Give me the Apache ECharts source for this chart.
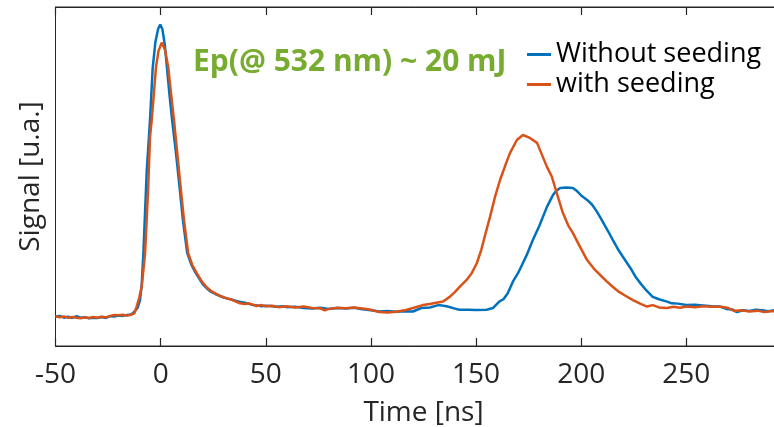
<!DOCTYPE html>
<html>
<head>
<meta charset="utf-8">
<script src="https://cdn.jsdelivr.net/npm/echarts@6/dist/echarts.min.js"></script>
<style>
  html, body { margin: 0; padding: 0; background: #fff; }
  #chart { width: 774px; height: 427px; }
</style>
</head>
<body>
<div id="chart"></div>
<script>
// series names
var seriesNames = ['Without seeding', 'with seeding'];
var xTicks = [-50, 0, 50, 100, 150, 200, 250];

// without seeding (blue), time in ns / signal in a.u.
var blueTime = [-50, -48, -46, -44, -42, -40, -38, -36, -34, -32, -30, -28, -26, -24, -22, -20, -18, -16, -14,
  -12.5, -11, -9.8, -9, -8.2, -7.4, -6.6, -5, -3.8, -2.5, -1.2, -0.2, 0.8, 2, 2.9, 4.2, 5.5, 7.3, 9, 10.6, 12.6,
  14.5, 16.5, 18, 20, 22, 24, 26, 28, 30, 32, 34, 36, 38, 40, 42, 44, 46, 48, 50, 52, 55, 58, 60, 64, 68, 72,
  76, 80, 84, 88, 92, 96, 100, 104, 108, 112, 116, 120, 124, 128, 132, 136, 140, 142, 146, 150, 155, 158, 161,
  163, 165, 167.5, 170, 172, 174, 177, 180, 183.7, 186.6, 188, 190, 193, 196, 198, 200, 202.8, 205, 207, 209,
  211, 213, 215, 218, 221.8, 224, 226, 228, 231, 234, 237, 240.8, 243, 246, 250, 254, 258, 262, 266, 269, 272,
  274, 277, 280, 283, 286, 289, 292, 296, 300];
var blueSignal = [0.000, 0.003, -0.003, 0.000, -0.004, 0.002, -0.003, -0.002, -0.005, -0.003, -0.004, -0.001,
  -0.004, 0.002, 0.001, 0.004, 0.003, 0.006, 0.008,
  0.017, 0.030, 0.057, 0.11, 0.218, 0.36, 0.50, 0.68, 0.85, 0.94, 0.985, 1.0, 0.985, 0.93, 0.86, 0.76, 0.67,
  0.56, 0.444, 0.331, 0.22,
  0.18, 0.152, 0.135, 0.112, 0.097, 0.085, 0.078, 0.072, 0.066, 0.062, 0.058, 0.054, 0.051, 0.048, 0.044, 0.040,
  0.039, 0.036, 0.038, 0.037, 0.034, 0.036, 0.033, 0.034, 0.030, 0.028,
  0.031, 0.027, 0.030, 0.028, 0.031, 0.026, 0.022, 0.018, 0.020, 0.017, 0.019, 0.018, 0.030, 0.032, 0.040,
  0.036, 0.028, 0.024, 0.024, 0.023, 0.024, 0.030, 0.052,
  0.060, 0.080, 0.120, 0.150, 0.180, 0.210, 0.263, 0.310, 0.376, 0.417, 0.430, 0.441, 0.442, 0.441, 0.430,
  0.415, 0.400, 0.385, 0.365, 0.341,
  0.315, 0.290, 0.263, 0.225, 0.184, 0.160, 0.135, 0.116, 0.090, 0.068, 0.060, 0.052, 0.046, 0.045, 0.040,
  0.041, 0.039, 0.036, 0.035, 0.027, 0.025,
  0.016, 0.022, 0.020, 0.024, 0.022, 0.019, 0.023, 0.022, 0.022];

// with seeding (orange)
var orangeTime = [-50, -48, -46, -44, -42, -40, -38, -36, -34, -32, -30, -28, -26, -24, -22, -20, -18, -16, -14,
  -12.5, -11.4, -10.2, -9, -7.4, -5.9, -5.05, -4.25, -2.2, -1, 0.5, 2, 3.6, 5, 6.35, 7.9, 9.5, 11.1, 13.1,
  15, 17.1, 19, 20.1, 22, 24, 25.8, 28, 31.4, 34, 37.7, 40, 42, 45.7, 48, 50, 53, 56, 60, 64, 68, 72,
  76, 78, 80, 84, 88, 92, 96, 100, 104, 108, 112, 116, 120, 124.7, 128, 131, 134.3, 137.6, 140, 142.3, 145.5,
  148, 150.4, 152.5, 154.5, 156.6, 159, 161.4, 164, 166.1, 169.4, 172.3, 175.6, 179, 181, 183.7, 186, 188.3,
  191.3, 194, 196, 199, 202.8, 206, 209, 212, 215.1, 218, 221, 224.6, 228, 231.3, 234, 237, 240.8, 244, 247,
  250.3, 254, 258, 262, 266.5, 270, 272.6, 276, 280, 284, 287, 290, 294, 300];
var orangeSignal = [0.002, -0.002, 0.001, -0.003, -0.001, -0.003, -0.005, -0.002, -0.004, -0.001, -0.003, 0.000,
  -0.002, 0.003, 0.006, 0.005, 0.007, 0.004, 0.007,
  0.012, 0.035, 0.065, 0.103, 0.218, 0.444, 0.615, 0.673, 0.855, 0.91, 0.938, 0.915, 0.855, 0.76, 0.673, 0.56,
  0.444, 0.331, 0.218,
  0.178, 0.150, 0.128, 0.116, 0.100, 0.088, 0.081, 0.072, 0.063, 0.058, 0.046, 0.044, 0.046, 0.037, 0.040,
  0.036, 0.038, 0.033, 0.036, 0.032, 0.035, 0.030,
  0.029, 0.022, 0.027, 0.031, 0.029, 0.032, 0.028, 0.024, 0.016, 0.015, 0.017, 0.022, 0.030, 0.040, 0.044,
  0.048, 0.052, 0.069, 0.085, 0.103, 0.126,
  0.150, 0.184, 0.230, 0.285, 0.341, 0.410, 0.468, 0.520, 0.560, 0.605, 0.622, 0.612, 0.595, 0.560, 0.513,
  0.480, 0.425,
  0.355, 0.310, 0.287, 0.245, 0.194, 0.165, 0.143, 0.122, 0.102, 0.085, 0.072, 0.057, 0.045, 0.035, 0.040,
  0.032, 0.030, 0.034, 0.031,
  0.035, 0.033, 0.036, 0.034, 0.034, 0.030, 0.020, 0.022, 0.018, 0.021, 0.016, 0.019, 0.018, 0.020];

function pairs(xs, ys) {
  var out = [];
  for (var i = 0; i < xs.length; i++) out.push([xs[i], ys[i]]);
  return out;
}

var ink = '#262626';
var font = 'Open Sans';

var myChart = echarts.init(document.getElementById('chart'));
var option = {
  animation: false,
  backgroundColor: '#fff',
  grid: {
    left: 55.5, top: 7, width: 736, height: 339,
    outerBoundsMode: 'none', containLabel: false,
    show: true, borderColor: ink, borderWidth: 1, backgroundColor: 'transparent'
  },
  legend: {
    orient: 'vertical',
    left: 527,
    top: 41,
    padding: 0,
    icon: 'rect',
    itemWidth: 24,
    itemHeight: 3,
    itemGap: 3,
    textStyle: { fontFamily: font, fontSize: 27, lineHeight: 27, color: '#000' },
    data: seriesNames
  },
  graphic: [{
    type: 'text',
    left: 193,
    top: 47,
    style: {
      text: 'Ep(@ 532 nm) ~ 20 mJ',
      fill: '#77AC30',
      font: 'bold 30px "Open Sans"'
    }
  }],
  xAxis: [{
    type: 'value',
    min: -50,
    max: 300,
    interval: 50,
    name: 'Time [ns]',
    nameLocation: 'middle',
    nameGap: 53,
    nameTextStyle: { fontFamily: font, fontSize: 28, color: ink },
    axisLine: { show: true, onZero: false, lineStyle: { color: ink, width: 1 } },
    axisTick: { show: true, inside: true, length: 8, lineStyle: { color: ink, width: 1.2 } },
    axisLabel: {
      fontFamily: font, fontSize: 28, color: ink, margin: 15,
      showMaxLabel: false,
      formatter: function (v) { return xTicks.indexOf(v) >= 0 ? String(v) : ''; }
    },
    splitLine: { show: false }
  }, {
    type: 'value',
    position: 'top',
    min: -50,
    max: 300,
    interval: 50,
    axisLine: { show: true, onZero: false, lineStyle: { color: ink, width: 1 } },
    axisTick: { show: true, inside: true, length: 8, lineStyle: { color: ink, width: 1.2 } },
    axisLabel: { show: false },
    splitLine: { show: false }
  }],
  yAxis: {
    type: 'value',
    min: -0.1,
    max: 1.06,
    name: 'Signal [u.a.]',
    nameLocation: 'middle',
    nameGap: 10,
    nameTextStyle: { fontFamily: font, fontSize: 28, color: ink },
    axisLine: { show: true, onZero: false, lineStyle: { color: ink, width: 1 } },
    axisTick: { show: false },
    axisLabel: { show: false },
    splitLine: { show: false }
  },
  series: [{
    name: seriesNames[0],
    type: 'line',
    showSymbol: false,
    data: pairs(blueTime, blueSignal),
    lineStyle: { color: '#0072BD', width: 2.5 },
    itemStyle: { color: '#0072BD' }
  }, {
    name: seriesNames[1],
    type: 'line',
    showSymbol: false,
    data: pairs(orangeTime, orangeSignal),
    lineStyle: { color: '#D95319', width: 2.5 },
    itemStyle: { color: '#D95319' }
  }]
};
myChart.setOption(option);
</script>
</body>
</html>
